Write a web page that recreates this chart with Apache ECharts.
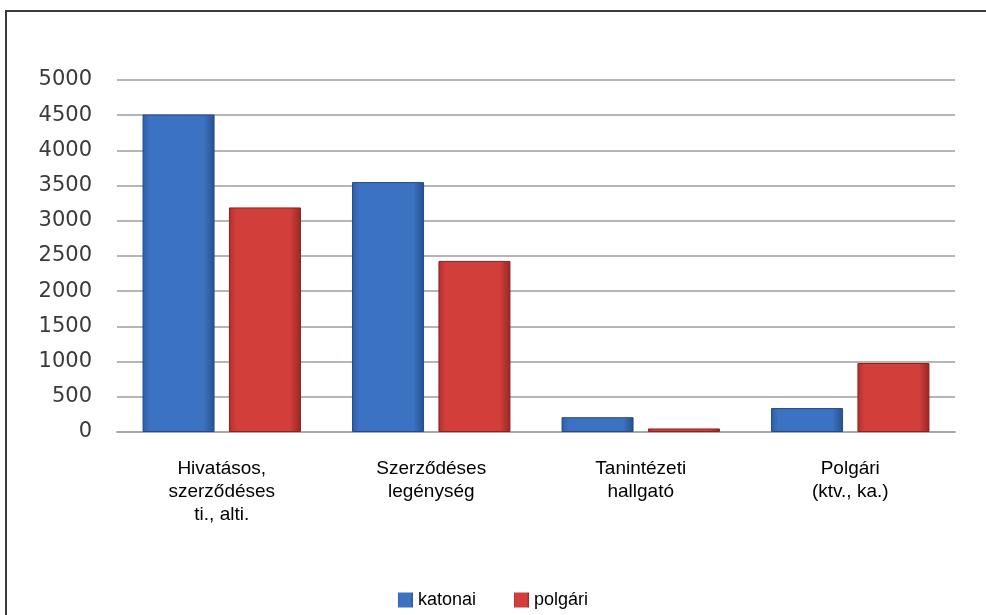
<!DOCTYPE html>
<html>
<head>
<meta charset="utf-8">
<script src="https://cdn.jsdelivr.net/npm/echarts@6/dist/echarts.min.js"></script>
<style>
html,body{margin:0;padding:0;background:#fff;}
#wrap{position:relative;width:986px;height:615px;overflow:hidden;}
#chart{position:absolute;left:0;top:0;width:986px;height:615px;}
#frame{position:absolute;left:5px;top:10px;width:981px;height:605px;box-sizing:border-box;border-top:2px solid #3a3a3a;border-left:2px solid #3a3a3a;pointer-events:none;}
</style>
</head>
<body>
<div id="wrap"><div id="chart"></div><div id="frame"></div></div>
<script>
const categories = ['Hivatásos,\nszerződéses\nti., alti.', 'Szerződéses\nlegénység', 'Tanintézeti\nhallgató', 'Polgári\n(ktv., ka.)'];
const seriesNames = ['katonai', 'polgári'];
const katonai = [4510, 3550, 210, 340];
const polgari = [3190, 2430, 50, 980];
const yTicks = [0, 500, 1000, 1500, 2000, 2500, 3000, 3500, 4000, 4500, 5000];

function barGrad(edge, mid, edge2) {
  return new echarts.graphic.LinearGradient(0, 0, 1, 0, [
    {offset: 0, color: edge},
    {offset: 0.1, color: mid},
    {offset: 0.85, color: mid},
    {offset: 1, color: edge2}
  ]);
}
const blueFill = barGrad('#2f5da6', '#3c72c2', '#27508f');
const redFill = barGrad('#b0302c', '#d23f3b', '#982724');

const chart = echarts.init(document.getElementById('chart'), null, {renderer: 'canvas'});
chart.setOption({
  animation: false,
  backgroundColor: '#ffffff',
  grid: {left: 117, right: 31, top: 80, bottom: 183, containLabel: false},
  legend: {
    data: seriesNames,
    bottom: 1,
    left: 'center',
    itemWidth: 15,
    itemHeight: 15,
    itemGap: 38,
    icon: 'rect',
    itemStyle: {borderWidth: 0},
    textStyle: {fontFamily: 'Liberation Sans, Arial', fontSize: 18, color: '#000'}
  },
  xAxis: {
    type: 'category',
    data: categories,
    axisLine: {show: true, lineStyle: {color: '#a8a8a8', width: 2}},
    axisTick: {show: false},
    axisLabel: {
      fontFamily: 'Liberation Sans, Arial',
      fontSize: 19,
      color: '#000',
      lineHeight: 23,
      margin: 25,
      interval: 0
    }
  },
  yAxis: {
    type: 'value',
    min: yTicks[0],
    max: yTicks[yTicks.length - 1],
    interval: yTicks[1] - yTicks[0],
    axisLine: {show: false},
    axisTick: {show: false},
    splitLine: {lineStyle: {color: '#b5b5b5', width: 2}},
    axisLabel: {
      fontFamily: 'DejaVu Sans',
      fontSize: 21,
      color: '#3a3a3a',
      margin: 25,
      formatter: function (v) { return String(v); }
    }
  },
  series: [
    {
      name: seriesNames[0],
      type: 'bar',
      data: katonai,
      barWidth: 72,
      barGap: '20%',
      itemStyle: {color: blueFill, borderColor: '#234a86', borderWidth: 1}
    },
    {
      name: seriesNames[1],
      type: 'bar',
      data: polgari,
      barWidth: 72,
      barGap: '20%',
      itemStyle: {color: redFill, borderColor: '#8a2320', borderWidth: 1}
    }
  ]
});
</script>
</body>
</html>
